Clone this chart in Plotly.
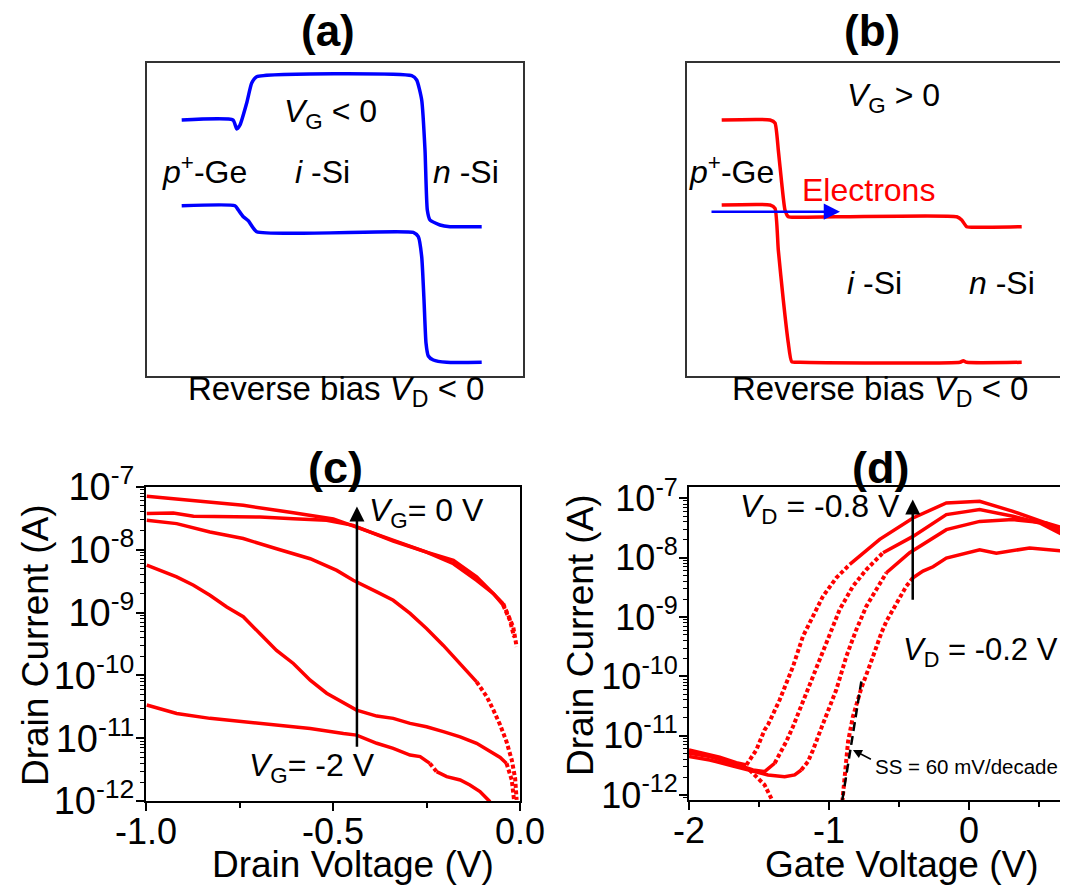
import math
import plotly.graph_objects as go

# page body has an 8px margin: the figure is sized so that it fills the window from (8, 8)
OFF = 8
W, H = 1068 - OFF, 890 - OFF
FONT = "Liberation Sans, Arial, Helvetica, sans-serif"
RED = "#ff0000"
BLUE = "#0000ff"
INK = "#000000"

# ---------------- data ----------------
# (a) band diagram, V_G < 0 (position / energy, arbitrary units)
a_cb_pos = [34.7, 86, 89.7, 93, 99.7, 104.7, 109.7, 264.7, 269.7, 274.7, 278, 280.3, 283, 293, 303, 334.7]
a_cb_E = [256, 256, 247, 251, 273, 293, 299.3, 300.3, 296, 276, 226, 166, 156, 151, 149.3, 149.3]
a_vb_pos = [34.7, 88, 91.3, 96.3, 101.3, 109.7, 266.3, 271.3, 274.7, 277, 279, 281.3, 286.3, 299.7, 334.7]
a_vb_E = [170.3, 170.3, 166, 159.3, 155.3, 144.3, 143.7, 139.3, 119.3, 76, 33, 20, 16, 13.7, 13.7]

# (b) band diagram, V_G > 0
b_cb_pos = [34.7, 83, 88, 91.3, 94.7, 98, 101.3, 109.7, 269.7, 274.7, 279.7, 289.7, 334.7]
b_cb_E = [256, 256, 253, 226, 193, 166, 159.3, 158.7, 159.3, 156, 149.3, 148.7, 149.3]
b_vb_pos = [34.7, 83, 88, 91.3, 96.3, 101.3, 104.7, 113, 273, 276.3, 279.7, 334.7]
b_vb_E = [171, 171, 167.7, 126, 76, 33, 14.3, 13.7, 13.7, 15.3, 13.7, 13.7]
b_electron_pos = [23, 153]
b_electron_E = 164.3

# (c) Id-Vd, V_G = 0, -0.5, -1.0, -1.5, -2 V
c_VG0_V = [-0.998, -0.873, -0.740, -0.606, -0.499, -0.428, -0.339, -0.250, -0.178, -0.116, -0.071, -0.045, -0.027, -0.018, -0.009]
c_VG0_I = [7.1e-8, 6.1e-8, 5.1e-8, 3.9e-8, 3.1e-8, 2.2e-8, 1.42e-8, 9.2e-9, 6.8e-9, 3.7e-9, 2.0e-9, 1.39e-9, 7.6e-10, 5.9e-10, 2.85e-10]
c_VGm05_V = [-0.998, -0.927, -0.873, -0.784, -0.695, -0.606, -0.517, -0.446, -0.339, -0.250, -0.178, -0.116, -0.071, -0.045, -0.027, -0.016]
c_VGm05_I = [3.77e-8, 3.85e-8, 3.41e-8, 3.33e-8, 3.33e-8, 3.13e-8, 2.95e-8, 2.45e-8, 1.38e-8, 9.2e-9, 6.0e-9, 3.27e-9, 2.0e-9, 1.31e-9, 7.6e-10, 4.1e-10]
c_VGm10_V = [-0.998, -0.918, -0.829, -0.740, -0.651, -0.561, -0.490, -0.446, -0.383, -0.339, -0.294, -0.250, -0.205, -0.160, -0.116, -0.089, -0.071, -0.053, -0.036, -0.022, -0.013, -0.009]
c_VGm10_I = [2.95e-8, 2.61e-8, 1.92e-8, 1.51e-8, 1.04e-8, 7.2e-9, 4.7e-9, 3.27e-9, 2.14e-9, 1.57e-9, 9.7e-10, 5.6e-10, 3.0e-10, 1.55e-10, 7.9e-11, 4.6e-11, 2.8e-11, 1.62e-11, 8.8e-12, 4.5e-12, 2.3e-12, 1.04e-12]
c_VGm15_V = [-0.998, -0.918, -0.873, -0.829, -0.784, -0.740, -0.695, -0.651, -0.606, -0.561, -0.517, -0.472, -0.437, -0.383, -0.339, -0.294, -0.250, -0.205, -0.160, -0.116, -0.080, -0.053, -0.036, -0.022, -0.016]
c_VGm15_I = [5.7e-9, 3.7e-9, 2.73e-9, 1.89e-9, 1.23e-9, 8.6e-10, 4.6e-10, 2.5e-10, 1.55e-10, 8.4e-11, 5.2e-11, 3.6e-11, 2.8e-11, 2.25e-11, 2.07e-11, 1.72e-11, 1.52e-11, 1.27e-11, 1.05e-11, 8.3e-12, 6.1e-12, 4.95e-12, 3.97e-12, 2.16e-12, 1.04e-12]
c_VGm20_V = [-0.998, -0.918, -0.829, -0.740, -0.651, -0.561, -0.472, -0.437, -0.383, -0.339, -0.294, -0.267, -0.241, -0.223, -0.196, -0.160, -0.134, -0.107, -0.089, -0.080]
c_VGm20_I = [3.37e-11, 2.48e-11, 2.07e-11, 1.83e-11, 1.62e-11, 1.43e-11, 1.19e-11, 1.12e-11, 8.3e-12, 6.9e-12, 5.4e-12, 5.1e-12, 3.97e-12, 2.93e-12, 2.44e-12, 2.16e-12, 1.80e-12, 1.41e-12, 1.10e-12, 9.7e-13]

# (d) Id-Vg, V_D = -0.8, -0.6, -0.4, -0.2 V
d_VDm08_V = [-2.0, -1.900, -1.781, -1.662, -1.590, -1.519, -1.460, -1.436, -1.352, -1.257, -1.186, -1.114, -1.043, -0.948, -0.852, -0.733, -0.638, -0.400, -0.162, 0.076, 0.314, 0.552, 0.705]
d_VDm08_I = [5.75e-12, 5.06e-12, 4.33e-12, 3.52e-12, 3.21e-12, 5.75e-12, 1.25e-11, 1.52e-11, 4.03e-11, 1.47e-10, 4.73e-10, 1.03e-9, 2.24e-9, 4.57e-9, 7.67e-9, 1.29e-8, 2.03e-8, 4.66e-8, 8.34e-8, 8.89e-8, 6.03e-8, 3.83e-8, 2.43e-8]
d_VDm06_V = [-2.0, -1.852, -1.686, -1.543, -1.460, -1.388, -1.340, -1.305, -1.257, -1.162, -1.067, -0.995, -0.924, -0.829, -0.733, -0.614, -0.400, -0.162, 0.076, 0.314, 0.505, 0.705]
d_VDm06_I = [5.06e-12, 4.45e-12, 3.43e-12, 2.64e-12, 2.48e-12, 3.43e-12, 5.4e-12, 7.96e-12, 1.43e-11, 5.21e-11, 1.91e-10, 5.38e-10, 1.33e-9, 3.3e-9, 6.3e-9, 1.21e-8, 2.28e-8, 5.3e-8, 6.44e-8, 4.97e-8, 3.83e-8, 2.22e-8]
d_VDm04_V = [-2.0, -1.852, -1.686, -1.543, -1.436, -1.317, -1.245, -1.198, -1.150, -1.114, -1.079, -1.055, -0.948, -0.876, -0.805, -0.733, -0.662, -0.590, -0.424, -0.162, 0.076, 0.314, 0.552, 0.705]
d_VDm04_I = [4.45e-12, 3.9e-12, 3.09e-12, 2.48e-12, 2.18e-12, 2.04e-12, 2.18e-12, 2.64e-12, 3.66e-12, 5.75e-12, 9.66e-12, 1.34e-11, 5.94e-11, 2.17e-10, 6.12e-10, 1.52e-9, 2.9e-9, 5.55e-9, 1.21e-8, 2.96e-8, 4.08e-8, 4.37e-8, 3.83e-8, 2.99e-8]
d_VDm02_V = [-2.0, -1.852, -1.686, -1.567, -1.519, -1.460, -1.424, -1.400, None, -0.905, -0.888, -0.876, -0.864, -0.829, -0.769, -0.698, -0.662, -0.626, -0.590, -0.543, -0.495, -0.448, -0.400, -0.329, -0.257, -0.162, 0.076, 0.195, 0.433, 0.705]
d_VDm02_I = [5.4e-12, 4.56e-12, 3.43e-12, 2.64e-12, 2.04e-12, 1.48e-12, 1.0e-12, 7.7e-13, None, 7.7e-13, 1.79e-12, 3.66e-12, 7.96e-12, 2.1e-11, 6.34e-11, 1.79e-10, 3.21e-10, 5.38e-10, 8.47e-10, 1.33e-9, 2.24e-9, 3.3e-9, 4.57e-9, 5.93e-9, 7.02e-9, 9.8e-9, 1.36e-8, 1.19e-8, 1.45e-8, 1.27e-8]
ss_V = [-0.905, -0.769]
ss_I = [8.2e-13, 8.2e-11]

c_xticks = [-1.0, -0.5, 0.0]
c_xticktext = ["-1.0", "-0.5", "0.0"]
d_xticks = [-2, -1, 0]
d_xticktext = ["-2", "-1", "0"]
y_decades = [1e-12, 1e-11, 1e-10, 1e-9, 1e-8, 1e-7]
y_decade_text = ["10<sup>-12</sup>", "10<sup>-11</sup>", "10<sup>-10</sup>", "10<sup>-9</sup>", "10<sup>-8</sup>", "10<sup>-7</sup>"]

# ---------------- layout helpers (window pixels -> paper fraction) ----------------
def fx(p):
    return (p - OFF) / W

def fy(p):
    return 1 - (p - OFF) / H

fig = go.Figure()

# band diagrams
band_line = dict(width=3.5, shape="spline", smoothing=0.5)
fig.add_trace(go.Scatter(x=a_cb_pos, y=a_cb_E, mode="lines", line=dict(color=BLUE, **band_line), xaxis="x", yaxis="y"))
fig.add_trace(go.Scatter(x=a_vb_pos, y=a_vb_E, mode="lines", line=dict(color=BLUE, **band_line), xaxis="x", yaxis="y"))
fig.add_trace(go.Scatter(x=b_cb_pos, y=b_cb_E, mode="lines", line=dict(color=RED, **band_line), xaxis="x2", yaxis="y2"))
fig.add_trace(go.Scatter(x=b_vb_pos, y=b_vb_E, mode="lines", line=dict(color=RED, **band_line), xaxis="x2", yaxis="y2"))


def add_curve(xs, ys, xa, ya, sx, sy, thr):
    """solid where gentle, square-dotted where steep (mimics sparse measured points)"""
    groups = {False: ([], []), True: ([], [])}
    for i in range(len(xs) - 1):
        x0, y0, x1, y1 = xs[i], ys[i], xs[i + 1], ys[i + 1]
        if None in (x0, y0, x1, y1):
            continue
        dx = abs(x1 - x0) * sx
        dy = abs(math.log10(y1) - math.log10(y0)) * sy
        steep = dy > thr * dx
        tx, ty = groups[steep]
        if tx and tx[-1] == x0 and ty[-1] == y0:
            tx.append(x1)
            ty.append(y1)
        else:
            if tx:
                tx.append(None)
                ty.append(None)
            tx += [x0, x1]
            ty += [y0, y1]
    sx_, sy_ = groups[False]
    if sx_:
        fig.add_trace(go.Scatter(x=sx_, y=sy_, mode="lines", line=dict(color=RED, width=3.5),
                                 xaxis=xa, yaxis=ya, connectgaps=False))
    dx_, dy_ = groups[True]
    if dx_:
        fig.add_trace(go.Scatter(x=dx_, y=dy_, mode="lines", line=dict(color=RED, width=4, dash="4px,2.5px"),
                                 xaxis=xa, yaxis=ya, connectgaps=False))


C_SX, C_SY = 374.0, 62.8
D_SX, D_SY = 140.0, 59.2
for vx, iy in [(c_VG0_V, c_VG0_I), (c_VGm05_V, c_VGm05_I), (c_VGm10_V, c_VGm10_I),
               (c_VGm15_V, c_VGm15_I), (c_VGm20_V, c_VGm20_I)]:
    add_curve(vx, iy, "x3", "y3", C_SX, C_SY, 1.2)
for vx, iy in [(d_VDm08_V, d_VDm08_I), (d_VDm06_V, d_VDm06_I), (d_VDm04_V, d_VDm04_I), (d_VDm02_V, d_VDm02_I)]:
    add_curve(vx, iy, "x4", "y4", D_SX, D_SY, 0.9)

fig.add_trace(go.Scatter(x=ss_V, y=ss_I, mode="lines", line=dict(color=INK, width=2.5, dash="9px,5px"),
                         xaxis="x4", yaxis="y4"))

# ---------------- axes ----------------
box_y_dom = [fy(376), fy(63)]
hidden = dict(showticklabels=False, ticks="", showgrid=False, zeroline=False, automargin=False)
frame = dict(showline=True, linecolor="#333333", linewidth=2)

axis_font = dict(family=FONT, size=36, color=INK)
ytick_font = dict(family=FONT, size=38, color=INK)

layout = dict(
    width=W, height=H,
    margin=dict(l=0, r=0, t=0, b=0, autoexpand=False),
    paper_bgcolor="white", plot_bgcolor="white",
    showlegend=False,
    font=dict(family=FONT, color=INK),
    xaxis=dict(domain=[fx(147), fx(523)], range=[0, 376], mirror=True, **frame, **hidden),
    yaxis=dict(domain=box_y_dom, range=[0, 313], mirror=True, **frame, **hidden),
    xaxis2=dict(domain=[fx(687), 1.0], range=[0, 381], mirror=True, anchor="y2", **frame, **hidden),
    yaxis2=dict(domain=box_y_dom, range=[0, 313], mirror=False, anchor="x2", **frame, **hidden),
    xaxis3=dict(domain=[fx(146), fx(520)], range=[-1.0, 0.0], anchor="y3", automargin=False,
                showline=True, linecolor=INK, linewidth=2, mirror=True, showgrid=False, zeroline=False,
                tickmode="array", tickvals=c_xticks, ticktext=c_xticktext, ticks="outside", ticklen=8,
                tickwidth=2, tickcolor=INK, tickfont=axis_font, ticklabelstandoff=-10,
                minor=dict(tickmode="array", tickvals=[-0.75, -0.25], ticks="outside", ticklen=5,
                           tickwidth=1.5, tickcolor=INK, showgrid=False)),
    yaxis3=dict(domain=[fy(801), fy(487)], type="log", range=[-12, -7], anchor="x3", automargin=False,
                showline=True, linecolor=INK, linewidth=2, mirror=True, showgrid=False, zeroline=False,
                tickmode="array", tickvals=y_decades, ticktext=y_decade_text, ticks="outside", ticklen=8,
                tickwidth=2, tickcolor=INK, tickfont=ytick_font, ticklabelstandoff=-6,
                minor=dict(tickmode="linear", dtick="D1", ticks="outside", ticklen=4, tickwidth=1.2,
                           tickcolor=INK, showgrid=False)),
    xaxis4=dict(domain=[fx(689), 1.0], range=[-2.0, 0.707], anchor="y4", automargin=False,
                showline=True, linecolor=INK, linewidth=2, mirror=True, showgrid=False, zeroline=False,
                tickmode="array", tickvals=d_xticks, ticktext=d_xticktext, ticks="outside", ticklen=8,
                tickwidth=2, tickcolor=INK, tickfont=axis_font, ticklabelstandoff=-10,
                minor=dict(tickmode="array", tickvals=[-1.5, -0.5, 0.5], ticks="outside", ticklen=5,
                           tickwidth=1.5, tickcolor=INK, showgrid=False)),
    yaxis4=dict(domain=[fy(800), fy(487)], type="log", range=[-12.084, -6.81], anchor="x4", automargin=False,
                showline=True, linecolor=INK, linewidth=2, mirror=False, showgrid=False, zeroline=False,
                tickmode="array", tickvals=y_decades, ticktext=y_decade_text, ticks="outside", ticklen=8,
                tickwidth=2, tickcolor=INK, tickfont=dict(family=FONT, size=36, color=INK),
                ticklabelstandoff=-6,
                minor=dict(tickmode="linear", dtick="D1", ticks="outside", ticklen=4, tickwidth=1.2,
                           tickcolor=INK, showgrid=False)),
)
fig.update_layout(**layout)

# ---------------- annotations ----------------
ann = []


def text(xp, yp, s, size, color=INK, xanchor="center", angle=0):
    ann.append(dict(x=fx(xp), y=fy(yp), xref="paper", yref="paper", text=s, showarrow=False,
                    xanchor=xanchor, yanchor="middle", textangle=angle,
                    font=dict(family=FONT, size=size, color=color)))


text(328, 31, "<b>(a)</b>", 44)
text(872, 31, "<b>(b)</b>", 44)
text(335, 467, "<b>(c)</b>", 45)
text(880, 467, "<b>(d)</b>", 45)

text(330, 113, "<i>V</i><sub>G</sub> &lt; 0", 32)
text(204, 170, "<i>p</i><sup>+</sup>-Ge", 32)
text(322, 172, "<i>i</i> -Si", 32)
text(466, 172, "<i>n</i> -Si", 32)
text(336, 391, "Reverse bias <i>V</i><sub>D</sub> &lt; 0", 33)

text(893, 97, "<i>V</i><sub>G</sub> &gt; 0", 32)
text(731, 170, "<i>p</i><sup>+</sup>-Ge", 32)
text(868, 190, "Electrons", 32, color=RED)
text(874, 283, "<i>i</i> -Si", 32)
text(1002, 283, "<i>n</i> -Si", 32)
text(880, 391, "Reverse bias <i>V</i><sub>D</sub> &lt; 0", 33)

text(367, 512, "<i>V</i><sub>G</sub>= 0 V", 32, xanchor="left")
text(247, 767, "<i>V</i><sub>G</sub>= -2 V", 32, xanchor="left")
text(738, 509, "<i>V</i><sub>D</sub> = -0.8 V", 32, xanchor="left")
text(901, 652, "<i>V</i><sub>D</sub> = -0.2 V", 31, xanchor="left")
text(873, 766, "SS = 60 mV/decade", 20.5, xanchor="left")

text(35, 645, "Drain Current (A)", 37, angle=-90)
text(353, 864, "Drain Voltage (V)", 37)
text(580, 635, "Drain Current (A)", 37, angle=-90)
text(902, 864, "Gate Voltage (V)", 37)

# arrows (log axes take log10 positions)
ann.append(dict(x=b_electron_pos[1], y=b_electron_E, ax=b_electron_pos[0], ay=b_electron_E,
                xref="x2", yref="y2", axref="x2", ayref="y2", text="", showarrow=True,
                arrowhead=2, arrowsize=1.3, arrowwidth=2.5, arrowcolor=BLUE, standoff=0))
ann.append(dict(x=-0.436, y=-7.31, ax=-0.436, ay=-11.16, xref="x3", yref="y3", axref="x3", ayref="y3",
                text="", showarrow=True, arrowhead=2, arrowsize=1.2, arrowwidth=2.5, arrowcolor=INK, standoff=0))
ann.append(dict(x=-0.402, y=-7.02, ax=-0.402, ay=-8.735, xref="x4", yref="y4", axref="x4", ayref="y4",
                text="", showarrow=True, arrowhead=2, arrowsize=1.2, arrowwidth=2.5, arrowcolor=INK, standoff=0))
ann.append(dict(x=-0.829, y=-11.24, ax=-0.690, ay=-11.41, xref="x4", yref="y4", axref="x4", ayref="y4",
                text="", showarrow=True, arrowhead=2, arrowsize=1.2, arrowwidth=1.5, arrowcolor=INK, standoff=0))

fig.update_layout(annotations=ann)
fig.write_html("out.html")
